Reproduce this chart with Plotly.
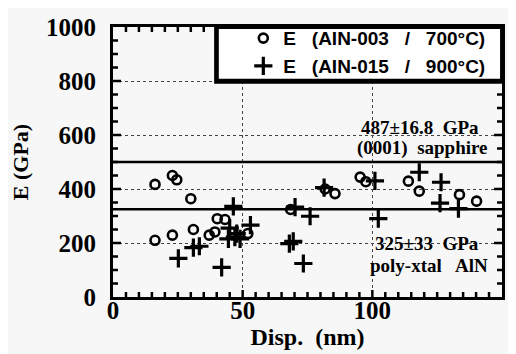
import numpy as np
import plotly.graph_objects as go

# Data
disp_003 = [16.2, 22.9, 24.6, 30.0, 16.2, 22.9, 31.0, 37.1, 39.3, 40.2, 43.2, 52.0,
            68.5, 81.8, 85.6, 95.3, 97.5, 113.9, 118.1, 133.6, 140.2]
e_003 = [417, 450, 434, 364, 210, 229, 250, 229, 241, 290, 287, 235,
         324, 400, 383, 444, 427, 429, 392, 379, 355]

disp_015 = [25.2, 31.0, 33.3, 41.9, 46.4, 45.0, 47.7, 44.5, 49.0, 53.0, 47.0,
            68.0, 69.5, 73.4, 70.2, 76.0, 81.4, 101.0, 102.3, 118.1, 126.5, 126.1, 133.2]
e_015 = [143, 183, 188, 110, 336, 255, 235, 215, 215, 266, 222,
         198, 206, 124, 333, 299, 405, 430, 290, 462, 425, 348, 327]

ref_lines = [500, 325]          # horizontal reference lines (GPa), as drawn
ref_labels = [("487\u00b116.8\u00a0 GPa", "(0001)\u00a0 sapphire"),
              ("325\u00b133\u00a0 GPa", "poly-xtal\u00a0\u00a0 AlN")]
legend_names = ["E\u00a0\u00a0 (AIN-003\u00a0\u00a0 /\u00a0\u00a0 700\u00b0C)",
                "E\u00a0\u00a0 (AIN-015\u00a0\u00a0 /\u00a0\u00a0 900\u00b0C)"]

x_range = [0, 150]
y_range = [0, 1000]
x_major, x_minor = 50, 5
y_major, y_minor = 200, 50

BG = "#f7f7f7"
SERIF = "Liberation Serif"

W, H = 508, 346
M = dict(l=105, r=14, t=18, b=57)
PW = W - M["l"] - M["r"]
PH = H - M["t"] - M["b"]

fig = go.Figure()
fig.add_trace(go.Scatter(
    x=disp_003, y=e_003, mode="markers", name=legend_names[0],
    marker=dict(symbol="circle-open", size=9, color="black", line=dict(width=2.6, color="black")),
))
fig.add_trace(go.Scatter(
    x=disp_015, y=e_015, mode="markers", name=legend_names[1],
    marker=dict(symbol="cross-thin", size=13, color="black", line=dict(width=3.2, color="black")),
))

for yv in ref_lines:
    fig.add_shape(type="line", xref="paper", x0=0, x1=1, yref="y", y0=yv, y1=yv,
                  line=dict(color="black", width=2.5), layer="above")

# inside tick marks on all four sides (drawn as shapes on the axes' scales)
tick_line = dict(color="black", width=2.5)
for xv in np.arange(x_range[0] + x_minor, x_range[1], x_minor):
    L = 7 if xv % x_major == 0 else 5
    fig.add_shape(type="line", xref="x", yref="paper", x0=float(xv), x1=float(xv), y0=0, y1=L / PH,
                  line=tick_line, layer="above")
    fig.add_shape(type="line", xref="x", yref="paper", x0=float(xv), x1=float(xv), y0=1, y1=1 - L / PH,
                  line=tick_line, layer="above")
for yv in np.arange(y_range[0] + y_minor, y_range[1], y_minor):
    L = 8 if yv % y_major == 0 else 5
    fig.add_shape(type="line", xref="paper", yref="y", x0=0, x1=L / PW, y0=float(yv), y1=float(yv),
                  line=tick_line, layer="above")
    fig.add_shape(type="line", xref="paper", yref="y", x0=1, x1=1 - L / PW, y0=float(yv), y1=float(yv),
                  line=tick_line, layer="above")

# legend box with shadow
fig.add_shape(type="rect", xref="paper", yref="paper",
              x0=0.26, x1=1, y0=0.79, y1=1,
              fillcolor="black", line=dict(width=0), layer="above")
fig.add_shape(type="rect", xref="paper", yref="paper",
              x0=0.272, x1=0.995, y0=0.808, y1=0.993,
              fillcolor="white", line=dict(width=0), layer="above")

ann_font = dict(family=SERIF, size=19, color="black", weight="bold")
fig.add_annotation(x=142, y=627, text=ref_labels[0][0], showarrow=False,
                   xanchor="right", yanchor="middle", font=ann_font)
fig.add_annotation(x=145.5, y=552, text=ref_labels[0][1], showarrow=False,
                   xanchor="right", yanchor="middle", font=ann_font)
fig.add_annotation(x=142, y=200, text=ref_labels[1][0], showarrow=False,
                   xanchor="right", yanchor="middle", font=ann_font)
fig.add_annotation(x=145.5, y=115, text=ref_labels[1][1], showarrow=False,
                   xanchor="right", yanchor="middle", font=ann_font)

tickfont = dict(family=SERIF, size=25, color="black", weight="bold")

fig.update_xaxes(range=x_range, dtick=x_major, tickformat="d",
                 showline=True, linecolor="black", linewidth=3, mirror=True,
                 ticks="",
                 showgrid=True, gridcolor="#444", gridwidth=1, griddash="dot",
                 zeroline=False, automargin=False, tickfont=tickfont,
                 ticklabelstandoff=-11,
                 title=dict(text="Disp.\u00a0 (nm)", font=dict(family=SERIF, size=24, color="black", weight="bold"), standoff=0))
fig.update_yaxes(range=y_range, dtick=y_major,
                 showline=True, linecolor="black", linewidth=3, mirror=True,
                 ticks="",
                 showgrid=True, gridcolor="#444", gridwidth=1, griddash="dot",
                 zeroline=False, automargin=False, tickfont=tickfont,
                 ticklabelstandoff=9,
                 title=dict(text="E (GPa)", font=dict(family=SERIF, size=22, color="black", weight="bold"), standoff=14))

fig.update_layout(
    width=W, height=H,
    margin=M,
    paper_bgcolor=BG, plot_bgcolor=BG,
    showlegend=True,
    legend=dict(x=0.335, y=1.025, xanchor="left", yanchor="top",
                bgcolor="rgba(0,0,0,0)", borderwidth=0, tracegroupgap=0,
                font=dict(family="Liberation Sans", size=19, color="black", weight="bold")),
)

fig.write_html("out.html")
